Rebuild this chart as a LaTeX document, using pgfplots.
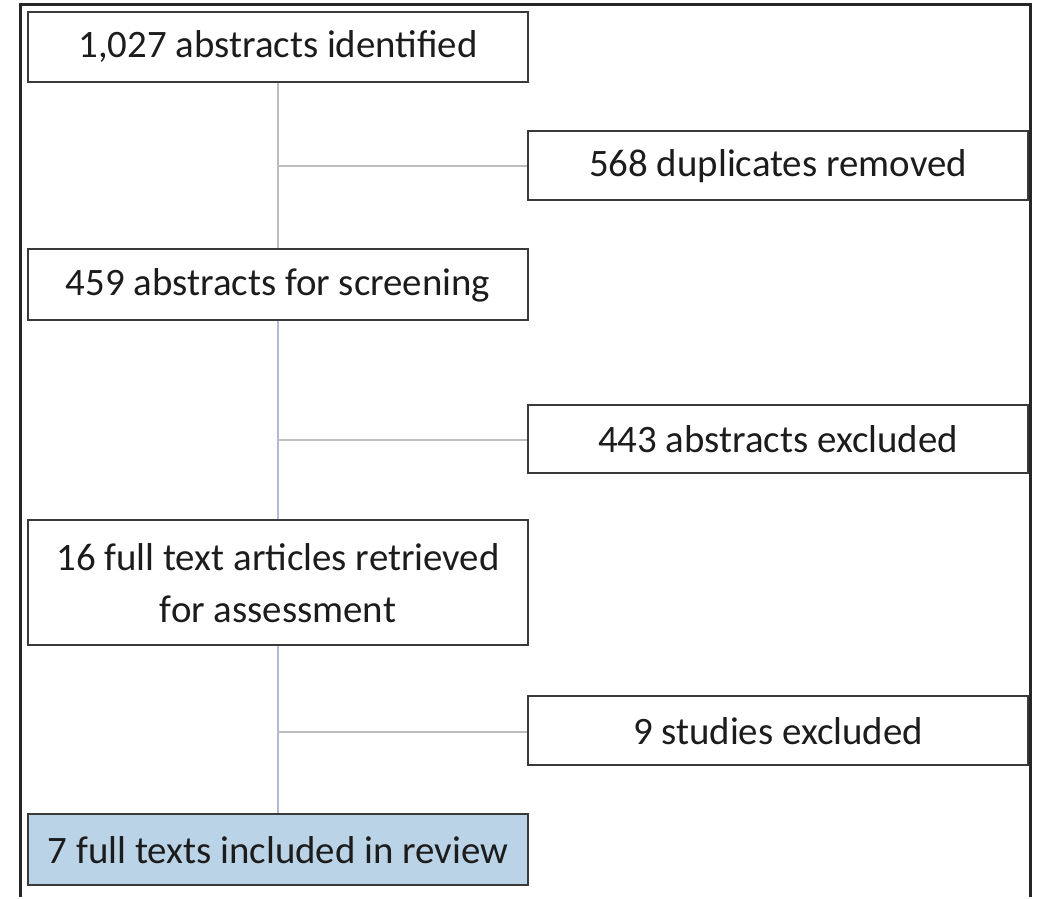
\documentclass[border=0pt]{standalone}
\usepackage{pgfplots}
\pgfplotsset{compat=1.18}
\usepackage{fontspec}
\setmainfont{Carlito}
\definecolor{frameC}{HTML}{262626}
\definecolor{boxC}{HTML}{3A3A3A}
\definecolor{lineG}{HTML}{BDBDBD}
\definecolor{lineB}{HTML}{B3B9D8}
\definecolor{fillB}{HTML}{BAD3E6}
\definecolor{txt}{HTML}{1C1C1C}
\begin{document}
\begin{tikzpicture}
\begin{axis}[hide axis, scale only axis, width=520bp, height=448.5bp,
  xmin=0, xmax=1040, ymin=0, ymax=897, y dir=reverse, clip=false]
\addplot[draw=none, forget plot] coordinates {(0,0) (1040,897)};
% outer frame
\addplot[frameC, line width=1.5bp] coordinates {(20,897) (20,5) (1030,5) (1030,897)};
% connectors
\addplot[lineG, line width=1bp] coordinates {(278,82) (278,249)};
\addplot[lineG, line width=1bp] coordinates {(278,166) (528,166)};
\addplot[lineB, line width=1bp] coordinates {(278,320) (278,814)};
\addplot[lineG, line width=1bp] coordinates {(278,440) (528,440)};
\addplot[lineG, line width=1bp] coordinates {(278,732) (528,732)};
% boxes
\addplot[boxC, fill=white, line width=1.3bp] coordinates {(28,12) (528,12) (528,82) (28,82)} --cycle;
\addplot[boxC, fill=white, line width=1.3bp] coordinates {(528,131) (1028,131) (1028,200) (528,200)} --cycle;
\addplot[boxC, fill=white, line width=1.3bp] coordinates {(28,249) (528,249) (528,320) (28,320)} --cycle;
\addplot[boxC, fill=white, line width=1.3bp] coordinates {(528,405) (1028,405) (1028,473) (528,473)} --cycle;
\addplot[boxC, fill=white, line width=1.3bp] coordinates {(28,520) (528,520) (528,645) (28,645)} --cycle;
\addplot[boxC, fill=white, line width=1.3bp] coordinates {(528,696) (1028,696) (1028,765) (528,765)} --cycle;
\addplot[boxC, fill=fillB, line width=1.3bp] coordinates {(28,814) (528,814) (528,885) (28,885)} --cycle;
% texts
\tikzset{lbl/.style={font=\fontsize{19.5}{26}\selectfont, text=txt, align=center, inner sep=0pt}}
\node[lbl] at (axis cs:278,47) {1,027 abstracts identified};
\node[lbl] at (axis cs:778,166) {568 duplicates removed};
\node[lbl] at (axis cs:278,285) {459 abstracts for screening};
\node[lbl] at (axis cs:778,439) {443 abstracts excluded};
\node[lbl] at (axis cs:278,583) {16 full text articles retrieved\\for assessment};
\node[lbl] at (axis cs:778,731) {9 studies excluded};
\node[lbl] at (axis cs:278,850) {7 full texts included in review};
\end{axis}
\end{tikzpicture}
\end{document}
